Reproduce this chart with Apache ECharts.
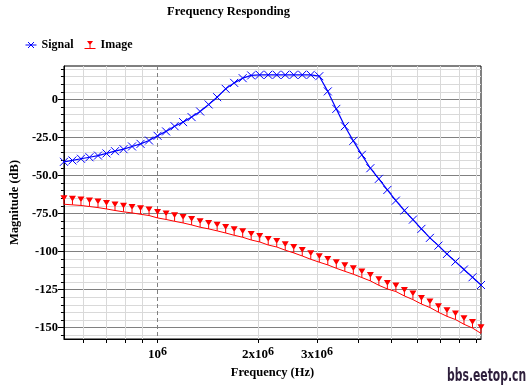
<!DOCTYPE html>
<html><head><meta charset="utf-8">
<script src="https://cdn.jsdelivr.net/npm/echarts@6/dist/echarts.min.js"></script>
<style>html,body{margin:0;padding:0;background:#fff}#c{width:531px;height:389px}</style>
</head><body><div id="c"></div>
<script>
// ---- data ----
const freqHz = [524600, 556300, 589900, 625600, 663400, 703400, 745900, 791000, 838800, 889500,
  943200, 1000200, 1060700, 1124800, 1192700, 1264800, 1341200, 1422300, 1508200, 1599400,
  1696000, 1798500, 1907100, 2022400, 2144600, 2274200, 2411600, 2557300, 2711800, 2875700,
  3049500, 3233700, 3429100, 3636300, 3856100, 4089100, 4336100, 4598200, 4876000, 5170600,
  5483100, 5814400, 6165700, 6538300, 6933300, 7352300, 7796500, 8267700, 8767200, 9297000];
const signalDb = [-41.0, -40.1, -39.0, -38.0, -36.9, -35.5, -34.0, -32.7, -30.9, -29.2,
  -27.0, -23.9, -21.0, -17.6, -14.9, -11.6, -7.9, -3.3, 1.5, 7.0,
  10.9, 14.0, 15.8, 16.2, 16.2, 16.2, 16.2, 16.2, 16.2, 16.2,
  15.3, 5.3, -6.2, -17.6, -27.2, -36.4, -45.2, -52.2, -59.5, -66.5,
  -73.0, -79.0, -85.1, -91.0, -96.1, -101.6, -106.6, -111.8, -116.9, -122.0];
const imageDb = [-68.9, -69.3, -69.7, -70.4, -71.1, -72.0, -73.0, -73.9, -74.6, -75.5,
  -76.3, -77.9, -78.9, -80.1, -81.2, -82.5, -84.0, -85.1, -86.4, -87.8,
  -89.3, -90.6, -92.4, -93.7, -95.7, -97.0, -99.1, -100.9, -102.9, -105.1,
  -107.0, -108.8, -111.0, -113.0, -114.9, -117.1, -119.3, -122.2, -124.6, -126.3,
  -129.2, -131.6, -134.5, -136.8, -139.9, -142.6, -144.7, -147.8, -150.3, -153.8];
const seriesNames = ['Signal', 'Image'];

// ---- axes / ticks ----
const xGridHz = [6e5, 7e5, 8e5, 9e5, 2e6, 3e6, 4e6, 5e6, 6e6, 7e6, 8e6, 9e6];
const xDecadeHz = [1e6];
const xLabelHz = [1e6, 2e6, 3e6];
const xLabelText = ['{b|10}{s|6}', '{b|2x10}{s|6}', '{b|3x10}{s|6}'];
const yMin = -157.5, yMax = 22;
const yMinorTicks = [-155, -150, -145, -140, -135, -130, -125, -120, -115, -110, -105, -100,
  -95, -90, -85, -80, -75, -70, -65, -60, -55, -50, -45, -40, -35, -30, -25, -20, -15, -10,
  -5, 0, 5, 10, 15, 20];
const yMajorTicks = [-150, -125, -100, -75, -50, -25, 0];
const yTickLabels = ['-150', '-125', '-100', '-75.0', '-50.0', '-25.0', '0'];

const FONT = 'Liberation Serif';
const lg = v => Math.log10(v);
const xMin = freqHz[0], xMax = freqHz[freqHz.length - 1];
const noLine = {show: false, onZero: false};

const chart = echarts.init(document.getElementById('c'), null, {renderer: 'canvas'});
chart.setOption({
  animation: false,
  backgroundColor: '#fff',
  title: {
    text: 'Frequency Responding', left: 167, top: 0, padding: [5, 0],
    textStyle: {fontFamily: FONT, fontWeight: 'bold', fontSize: 12.5, color: '#000'}
  },
  legend: {
    left: 25, top: 39, padding: 0, itemWidth: 11, itemHeight: 9, itemGap: 11, selectedMode: false,
    textStyle: {fontFamily: FONT, fontWeight: 'bold', fontSize: 12, color: '#000'},
    data: [
      {name: seriesNames[0], icon: 'path://M0,4L11,4M2.5,1L8.5,7M8.5,1L2.5,7',
       itemStyle: {color: '#0000ff', borderColor: '#0000ff', borderWidth: 1}},
      {name: seriesNames[1], icon: 'path://M2.5,0L8.5,0L6,3.5L6,7L11,7L11,8L0,8L0,7L5,7L5,3.5Z',
       itemStyle: {color: '#ff0000', borderWidth: 0}}
    ]
  },
  grid: {left: 59, right: 50, top: 66, bottom: 50, show: true, borderColor: '#000', borderWidth: 1},
  xAxis: [
    {type: 'log', logBase: 10, min: xMin, max: xMax, show: false, axisLine: noLine, splitLine: {show: false}},
    {type: 'value', min: lg(xMin), max: lg(xMax), position: 'bottom',
     axisLine: {show: true, onZero: false, lineStyle: {color: '#000', width: 1}},
     axisTick: {show: true, length: 4, lineStyle: {color: '#000'}, customValues: xGridHz.map(lg)},
     splitLine: {show: true, lineStyle: {color: '#d9d9d9', width: 1}},
     axisLabel: {show: true, margin: 7, customValues: xLabelHz.map(lg),
       formatter: v => { const i = xLabelHz.findIndex(h => Math.abs(lg(h) - v) < 1e-6); return i < 0 ? '' : xLabelText[i]; },
       rich: {
         b: {fontFamily: FONT, fontWeight: 'bold', fontSize: 13, color: '#000'},
         s: {fontFamily: FONT, fontWeight: 'bold', fontSize: 12, color: '#000', padding: [0, 0, 5, 0]}
       }},
     name: 'Frequency (Hz)', nameLocation: 'middle', nameGap: 23,
     nameTextStyle: {fontFamily: FONT, fontWeight: 'bold', fontSize: 12.5, color: '#000'}},
    {type: 'value', min: lg(xMin), max: lg(xMax), position: 'bottom',
     axisLine: noLine, axisLabel: {show: false},
     axisTick: {show: true, length: 4, lineStyle: {color: '#000'}, customValues: xDecadeHz.map(lg)},
     splitLine: {show: true, lineStyle: {color: '#808080', width: 1, type: [4, 3]}}}
  ],
  yAxis: [
    {type: 'value', min: yMin, max: yMax, position: 'left',
     axisLine: {show: true, onZero: false, lineStyle: {color: '#000', width: 1}},
     axisTick: {show: true, length: 3, lineStyle: {color: '#000'}, customValues: yMinorTicks},
     axisLabel: {show: false},
     splitLine: {show: true, lineStyle: {color: ['#d9d9d9', '#808080', '#d9d9d9', '#d9d9d9', '#d9d9d9'], width: 1}}},
    {type: 'value', min: yMin, max: yMax, position: 'left',
     axisLine: noLine, splitLine: {show: false},
     axisTick: {show: true, length: 6, lineStyle: {color: '#000'}, customValues: yMajorTicks},
     axisLabel: {show: true, margin: 6, customValues: yMajorTicks,
       formatter: v => { const i = yMajorTicks.indexOf(v); return i < 0 ? '' : yTickLabels[i]; },
       fontFamily: FONT, fontWeight: 'bold', fontSize: 12.5, color: '#000'},
     name: 'Magnitude (dB)', nameLocation: 'middle', nameGap: 32,
     nameTextStyle: {fontFamily: FONT, fontWeight: 'bold', fontSize: 12.5, color: '#000'}}
  ],
  series: [
    {name: seriesNames[1], type: 'line', xAxisIndex: 0, yAxisIndex: 0, silent: true,
     data: freqHz.map((f, i) => [f, imageDb[i]]),
     symbol: 'path://M0,0L7,0L4,5L4,9L3,9L3,5Z', symbolSize: [7, 9], symbolOffset: [0, '-50%'],
     itemStyle: {color: '#ff0000', borderWidth: 0},
     lineStyle: {color: '#ff0000', width: 1}},
    {name: seriesNames[0], type: 'line', xAxisIndex: 0, yAxisIndex: 0, silent: true,
     data: freqHz.map((f, i) => [f, signalDb[i]]),
     symbol: 'path://M0,0L10,10M10,0L0,10', symbolSize: 8,
     itemStyle: {color: '#0000ff', borderColor: '#0000ff', borderWidth: 1},
     lineStyle: {color: '#0000ff', width: 1.2}}
  ],
  graphic: [
    {type: 'text', left: 447, top: 367, scaleX: 0.6, silent: true,
     style: {text: 'bbs.eetop.cn', fill: '#2e1f3c', font: 'bold 18px "DejaVu Sans"'}}
  ]
});
</script></body></html>
